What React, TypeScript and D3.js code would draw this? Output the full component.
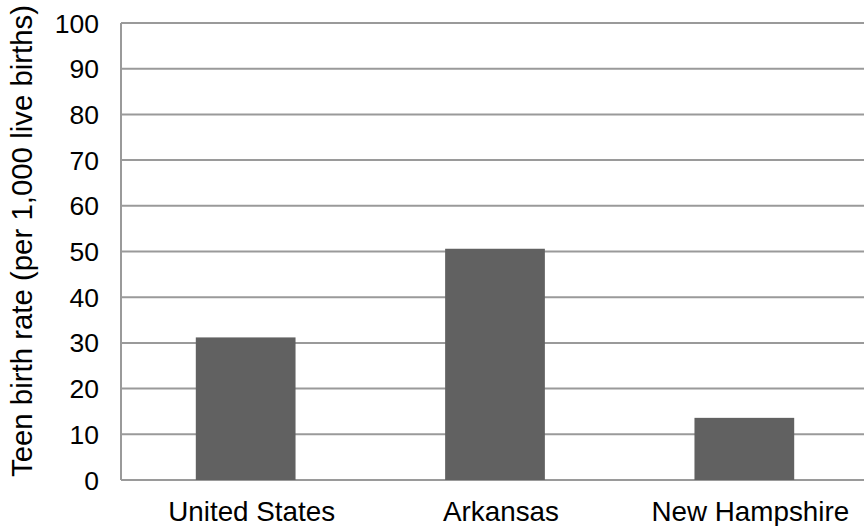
import React from "react";
import * as d3 from "d3";

const categories = ["United States", "Arkansas", "New Hampshire"];
const values = [31.2, 50.6, 13.6];
const yTicks = [0, 10, 20, 30, 40, 50, 60, 70, 80, 90, 100];
const yTitle = "Teen birth rate (per 1,000 live births)";

const W = 864;
const H = 526;
const left = 121;
const right = 869;
const top = 23;
const bottom = 480;

export default function App() {
  const x = d3
    .scaleBand<string>()
    .domain(categories)
    .range([left, right])
    .paddingInner(0.6)
    .paddingOuter(0.3);
  const y = d3.scaleLinear().domain([0, 100]).range([bottom, top]);
  const font = "'Liberation Sans', Arial, Helvetica, sans-serif";
  return (
    <svg
      width={W}
      height={H}
      style={{ position: "absolute", left: 0, top: 0, background: "#fff" }}
      fontFamily={font}
    >
      {yTicks.map((t) => (
        <g key={t}>
          <line x1={left} x2={W} y1={y(t)} y2={y(t)} stroke="#9a9a9a" strokeWidth={2} />
          <text x={99} y={y(t)} dy="0.36em" textAnchor="end" fontSize={26.5} fill="#000">
            {t}
          </text>
        </g>
      ))}
      <line x1={left} x2={left} y1={top} y2={bottom} stroke="#9a9a9a" strokeWidth={2} />
      {categories.map((c, i) => (
        <rect
          key={c}
          x={x(c)}
          y={y(values[i])}
          width={x.bandwidth()}
          height={bottom - y(values[i])}
          fill="#616161"
        />
      ))}
      {categories.map((c) => (
        <text
          key={c}
          x={(x(c) as number) + x.bandwidth() / 2 + 6}
          y={520.5}
          textAnchor="middle"
          fontSize={27.8}
          fill="#000"
        >
          {c}
        </text>
      ))}
      <text
        transform={`translate(32,241) rotate(-90)`}
        textAnchor="middle"
        fontSize={29.4}
        fill="#000"
      >
        {yTitle}
      </text>
    </svg>
  );
}
